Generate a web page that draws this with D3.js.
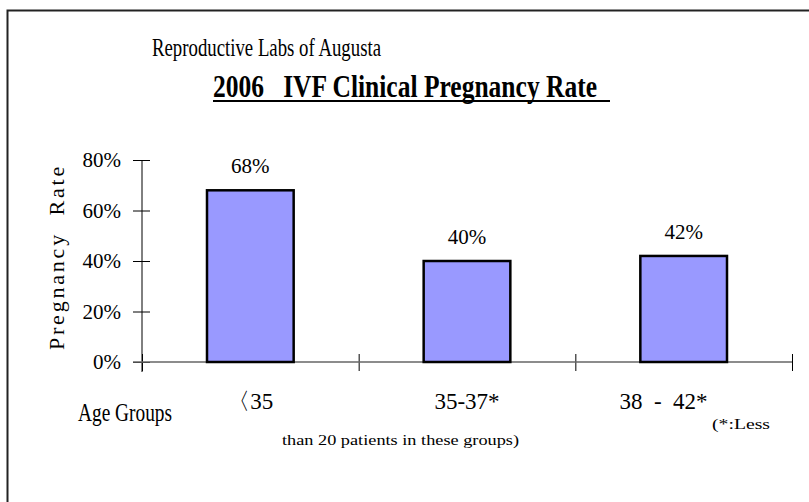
<!DOCTYPE html>
<html>
<head>
<meta charset="utf-8">
<script src="https://cdn.jsdelivr.net/npm/d3@7"></script>
<style>
  body { margin: 0; background: #fff; }
  svg text { font-family: "Liberation Serif", serif; fill: #000; white-space: pre; }
</style>
</head>
<body>
<div id="chart"></div>
<script>
// data
const groups = ["〈35", "35-37*", "38  -  42*       "];
const rates = [0.68, 0.40, 0.42];
const yTicks = [0, 0.2, 0.4, 0.6, 0.8];

const width = 809, height = 502;
const plot = {left: 142, right: 792, top: 160, bottom: 362};

const svg = d3.select("#chart")
  .append("svg")
    .attr("width", width)
    .attr("height", height);

// outer frame
svg.append("rect")
  .attr("x", 7.5).attr("y", 10.5)
  .attr("width", 830).attr("height", 520)
  .attr("fill", "none")
  .attr("stroke", "#222")
  .attr("stroke-width", 2);

// titles
svg.append("text")
  .attr("x", 152).attr("y", 56)
  .attr("font-size", 26)
  .attr("textLength", 229)
  .attr("lengthAdjust", "spacingAndGlyphs")
  .text("Reproductive Labs of Augusta");

svg.append("text")
  .attr("x", 213).attr("y", 97)
  .attr("font-size", 32)
  .attr("font-weight", "bold")
  .attr("textLength", 384)
  .attr("lengthAdjust", "spacingAndGlyphs")
  .text("2006   IVF Clinical Pregnancy Rate");

svg.append("line")
  .attr("x1", 213).attr("x2", 610)
  .attr("y1", 101).attr("y2", 101)
  .attr("stroke", "#000")
  .attr("stroke-width", 2);

// scales
const x = d3.scaleBand()
  .domain(groups)
  .range([plot.left, plot.right])
  .paddingInner(0.6)
  .paddingOuter(0.3);

const xEdge = d3.scaleLinear()
  .domain([0, groups.length])
  .range([plot.left, plot.right]);

const y = d3.scaleLinear()
  .domain([0, 0.8])
  .range([plot.bottom, plot.top]);

// y axis
const yAxis = svg.append("g")
  .attr("transform", `translate(${plot.left},0)`)
  .call(d3.axisLeft(y)
    .tickValues(yTicks)
    .tickFormat(d3.format(".0%"))
    .tickSize(9)
    .tickPadding(12));
yAxis.select(".domain").remove();
yAxis.selectAll(".tick line").attr("x1", 8).attr("stroke", "#000");
yAxis.selectAll(".tick text")
  .attr("font-size", 21)
  .attr("font-family", "Liberation Serif, serif")
  .attr("fill", "#000");
yAxis.append("line")
  .attr("y1", y(0.8)).attr("y2", y(0) + 10)
  .attr("stroke", "#000");

// x axis (ticks at group edges)
const xAxis = svg.append("g")
  .attr("transform", `translate(0,${plot.bottom})`)
  .call(d3.axisBottom(xEdge)
    .tickValues(d3.range(groups.length + 1))
    .tickFormat("")
    .tickSize(9));
xAxis.select(".domain").remove();
xAxis.selectAll(".tick line").attr("y1", -8).attr("stroke", "#000");
xAxis.append("line")
  .attr("x1", plot.left - 9).attr("x2", plot.right)
  .attr("stroke", "#666")
  .attr("stroke-width", 1.5);

// bars
svg.append("g")
  .selectAll("rect")
  .data(rates)
  .join("rect")
    .attr("x", (d, i) => x(groups[i]))
    .attr("y", d => y(d))
    .attr("width", x.bandwidth())
    .attr("height", d => y(0) - y(d))
    .attr("fill", "#9999FF")
    .attr("stroke", "#000")
    .attr("stroke-width", 2.5);

// value labels
svg.append("g")
  .selectAll("text")
  .data(rates)
  .join("text")
    .attr("x", (d, i) => x(groups[i]) + x.bandwidth() / 2)
    .attr("y", d => y(d) - 17)
    .attr("text-anchor", "middle")
    .attr("font-size", 21)
    .text(d => d3.format(".0%")(d));

// category labels
svg.append("g")
  .selectAll("text")
  .data(groups)
  .join("text")
    .attr("x", d => x(d) + x.bandwidth() / 2)
    .attr("y", 409)
    .attr("text-anchor", "middle")
    .attr("font-size", 23)
    .text(d => d);

// axis titles
svg.append("text")
  .attr("transform", "translate(64,257) rotate(-90)")
  .attr("text-anchor", "middle")
  .attr("font-size", 22)
  .attr("letter-spacing", 2.8)
  .text("Pregnancy  Rate");

svg.append("text")
  .attr("x", 78).attr("y", 421)
  .attr("font-size", 25)
  .attr("textLength", 94)
  .attr("lengthAdjust", "spacingAndGlyphs")
  .text("Age Groups");

// note
svg.append("text")
  .attr("x", 712).attr("y", 429)
  .attr("font-size", 15)
  .attr("textLength", 58)
  .attr("lengthAdjust", "spacingAndGlyphs")
  .text("(*:Less");

svg.append("text")
  .attr("x", 282).attr("y", 445)
  .attr("font-size", 15)
  .attr("textLength", 237)
  .attr("lengthAdjust", "spacingAndGlyphs")
  .text("than 20 patients in these groups)");
</script>
</body>
</html>
